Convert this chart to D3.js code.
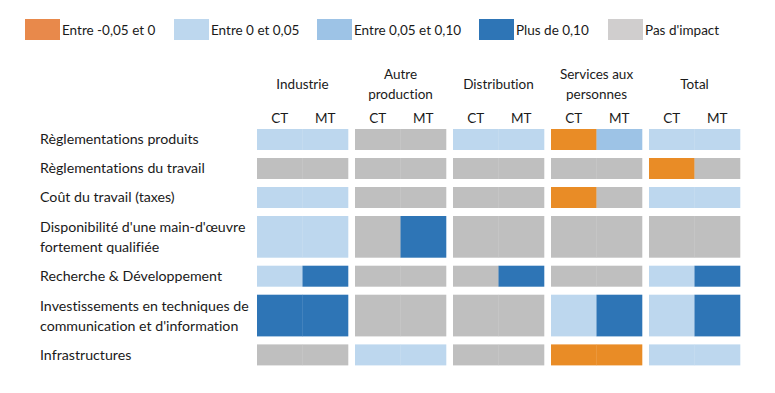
<!DOCTYPE html>
<meta charset="utf-8" />
<script src="https://d3js.org/d3.v7.min.js"></script>
<style>
  body { margin: 0; background: #fff; }
  text { font-family: Lato, "Open Sans", sans-serif; fill: #1a1a1a; font-variant-ligatures: none; }
</style>
<body>
<div id="chart"></div>
<script>
// categories of impact
var impactKeys = ["neg", "low", "mid", "high", "none"];
var impactLabels = ["Entre -0,05 et 0", "Entre 0 et 0,05", "Entre 0,05 et 0,10", "Plus de 0,10", "Pas d'impact"];

// column groups and horizons
var sectors = [["Industrie"], ["Autre", "production"], ["Distribution"], ["Services aux", "personnes"], ["Total"]];
var horizons = ["CT", "MT"];

// row labels (lines)
var factors = [
  ["Règlementations produits"],
  ["Règlementations du travail"],
  ["Coût du travail (taxes)"],
  ["Disponibilité d'une main-d'œuvre", "fortement qualifiée"],
  ["Recherche & Développement"],
  ["Investissements en techniques de", "communication et d'information"],
  ["Infrastructures"]
];

// one row per factor: [CT, MT] for each sector
var impactRows = [
  ["low", "low", "none", "none", "low", "low", "neg", "mid", "low", "low"],
  ["none", "none", "none", "none", "none", "none", "none", "none", "neg", "none"],
  ["low", "low", "none", "none", "none", "none", "neg", "none", "low", "low"],
  ["low", "low", "none", "high", "none", "none", "none", "none", "none", "none"],
  ["low", "high", "none", "none", "none", "high", "none", "none", "low", "high"],
  ["high", "high", "none", "none", "none", "none", "low", "high", "low", "high"],
  ["none", "none", "low", "low", "none", "none", "neg", "neg", "low", "low"]
];

var width = 775, height = 393;
var fs = "13.5px";
var svg = d3.select("#chart").append("svg")
  .attr("width", width).attr("height", height);

var color = d3.scaleOrdinal()
  .domain(impactKeys)
  .range(["#e98c26", "#bdd7ee", "#9dc3e6", "#2e75b6", "#bfbfbf"]);
var legendColor = d3.scaleOrdinal()
  .domain(impactKeys)
  .range(["#e8894b", "#bdd7ee", "#9dc3e6", "#2e75b6", "#d0cece"]);

// legend
var legendX = [25, 174, 317, 479, 608];
var lg = svg.append("g").selectAll("g")
  .data(impactKeys)
  .enter().append("g")
  .attr("transform", function (d, i) { return "translate(" + legendX[i] + ",19)"; });
lg.append("rect").attr("width", 35).attr("height", 21)
  .attr("fill", function (d) { return legendColor(d); });
lg.append("text").attr("x", 37).attr("y", 11).attr("dy", "0.35em")
  .style("font-size", fs)
  .text(function (d, i) { return impactLabels[i]; });

// x scales
var x = d3.scaleBand().domain(d3.range(sectors.length)).range([257, 740]).paddingInner(7 / 98);
var xSub = d3.scaleBand().domain(horizons).range([0, x.bandwidth()]);

// y layout: rows of 1 or 2 lines
var lineH = 20.7, gap = 8, gridTop = 129;
var yPos = [], y0 = gridTop;
factors.forEach(function (f) {
  var h = 21 + (f.length - 1) * lineH;
  yPos.push({ y: y0, h: h });
  y0 += h + gap;
});

// header
var hd = svg.append("g").selectAll("text")
  .data(sectors).enter().append("text")
  .attr("text-anchor", "middle")
  .style("font-size", fs)
  .attr("x", function (d, i) { return x(i) + x.bandwidth() / 2; })
  .attr("y", function (d) { return d.length == 1 ? 84 : 74; });
hd.selectAll("tspan").data(function (d) { return d; }).enter().append("tspan")
  .attr("x", function () { return d3.select(this.parentNode).attr("x"); })
  .attr("dy", function (d, i) { return i == 0 ? "0.35em" : "20"; })
  .text(function (d) { return d; });

sectors.forEach(function (s, i) {
  svg.append("g").selectAll("text").data(horizons).enter().append("text")
    .attr("text-anchor", "middle")
    .style("font-size", fs)
    .attr("x", function (h) { return x(i) + xSub(h) + xSub.bandwidth() / 2; })
    .attr("y", 118).attr("dy", "0.35em")
    .text(function (h) { return h; });
});

// row labels
var rl = svg.append("g").selectAll("text")
  .data(factors).enter().append("text")
  .style("font-size", "14.2px")
  .attr("x", 40);
rl.selectAll("tspan").data(function (d, i) {
    return d.map(function (t, j) { return { t: t, j: j, n: d.length, r: i }; });
  }).enter().append("tspan")
  .attr("x", 40)
  .attr("y", function (d) {
    var p = yPos[d.r];
    return p.y + p.h / 2 + (d.j - (d.n - 1) / 2) * 20;
  })
  .attr("dy", "0.35em")
  .text(function (d) { return d.t; });

// cells
var cells = [];
impactRows.forEach(function (row, r) {
  row.forEach(function (v, c) {
    cells.push({ r: r, s: Math.floor(c / 2), h: horizons[c % 2], v: v });
  });
});
svg.append("g").selectAll("rect")
  .data(cells).enter().append("rect")
  .attr("x", function (d) { return x(d.s) + xSub(d.h); })
  .attr("width", xSub.bandwidth() + 0.3)
  .attr("y", function (d) { return yPos[d.r].y; })
  .attr("height", function (d) { return yPos[d.r].h; })
  .attr("fill", function (d) { return color(d.v); });
</script>
</body>
